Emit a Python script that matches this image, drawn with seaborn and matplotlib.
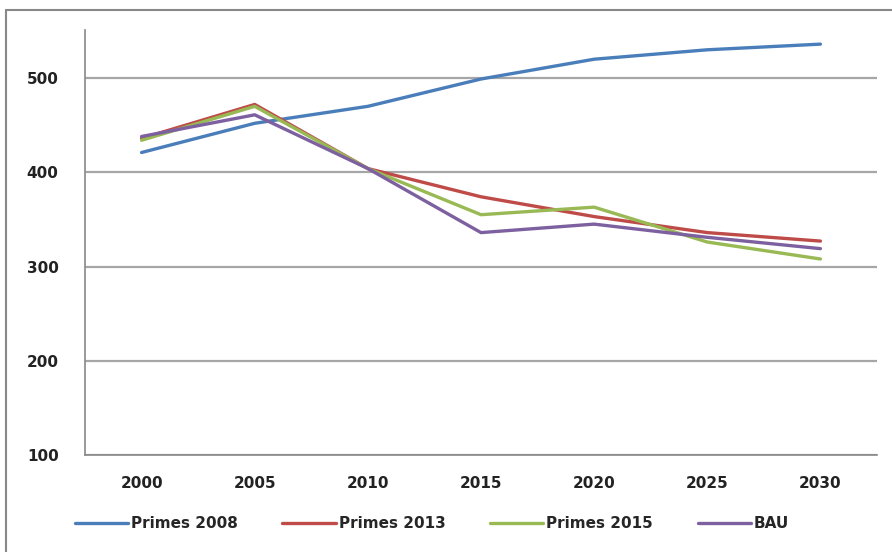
import numpy as np
import pandas as pd
import matplotlib
matplotlib.use("Agg")
import matplotlib.pyplot as plt
from matplotlib.lines import Line2D
import seaborn as sns

years = ["2000", "2005", "2010", "2015", "2020", "2025", "2030"]
primes_2008 = [421, 452, 470, 499, 520, 530, 536]
primes_2013 = [436, 472, 404, 374, 353, 336, 327]
primes_2015 = [434, 470, 404, 355, 363, 326, 308]
bau = [438, 461, 404, 336, 345, 331, 319]

series_names = ["Primes 2008", "Primes 2013", "Primes 2015", "BAU"]
colors = ["#4a7ebb", "#be4b48", "#98b954", "#7d60a0"]

df = pd.DataFrame({
    "year": years * 4,
    "value": primes_2008 + primes_2013 + primes_2015 + bau,
    "series": np.repeat(series_names, len(years)),
})

sns.set_style("white")
plt.rcParams["font.family"] = ["DejaVu Sans"]

fig = plt.figure(figsize=(8.92, 5.52), dpi=100)
ax = fig.add_axes([85 / 892, 1 - 455 / 552, (877 - 85) / 892, (455 - 30) / 552])

sns.lineplot(data=df, x="year", y="value", hue="series", hue_order=series_names,
             palette=colors, linewidth=2.4, ax=ax, sort=False)

ax.set_xlim(-0.5, len(years) - 0.5)
ax.set_ylim(100, 551)
ax.set_yticks([100, 200, 300, 400, 500])
ax.grid(axis="y", color="#a6a6a6", linewidth=1.6)
ax.grid(axis="x", visible=False)
ax.set_axisbelow(True)

# category boundaries carry the tick marks
ax.set_xticks(np.arange(len(years)))
ax.set_xticklabels(years)
ax.set_xticks(np.arange(-0.5, len(years)), minor=True)
ax.tick_params(axis="x", which="major", length=0, pad=15, labelsize=11, labelcolor="#222222")
ax.tick_params(axis="x", which="minor", length=6, width=1, color="#888888", direction="out")
ax.tick_params(axis="y", length=7, width=1, color="#888888", direction="out", pad=12,
               labelsize=11, labelcolor="#222222")
for lab in ax.get_xticklabels() + ax.get_yticklabels():
    lab.set_fontweight("bold")

for side in ["top", "right"]:
    ax.spines[side].set_visible(False)
ax.spines["left"].set_color("#888888")
ax.spines["bottom"].set_color("#888888")
ax.spines["left"].set_linewidth(1.2)
ax.spines["bottom"].set_linewidth(1.2)

ax.set_xlabel("")
ax.set_ylabel("")

handles, labels = ax.get_legend_handles_labels()
ax.legend(handles, labels, loc="center", bbox_to_anchor=(432 / 892, 1 - 524 / 552),
          bbox_transform=fig.transFigure, ncol=4, frameon=False, handlelength=3.5,
          columnspacing=2.9, handletextpad=0.2, prop={"size": 11, "weight": "bold"})

# chart frame: only top and left edges show in the crop
fig.lines.append(Line2D([6 / 892, 1], [1 - 10 / 552, 1 - 10 / 552], transform=fig.transFigure,
                        color="#888888", linewidth=1.5))
fig.lines.append(Line2D([6 / 892, 6 / 892], [0, 1 - 10 / 552], transform=fig.transFigure,
                        color="#888888", linewidth=1.5))

fig.savefig("out.png", dpi=100)
plt.close()
